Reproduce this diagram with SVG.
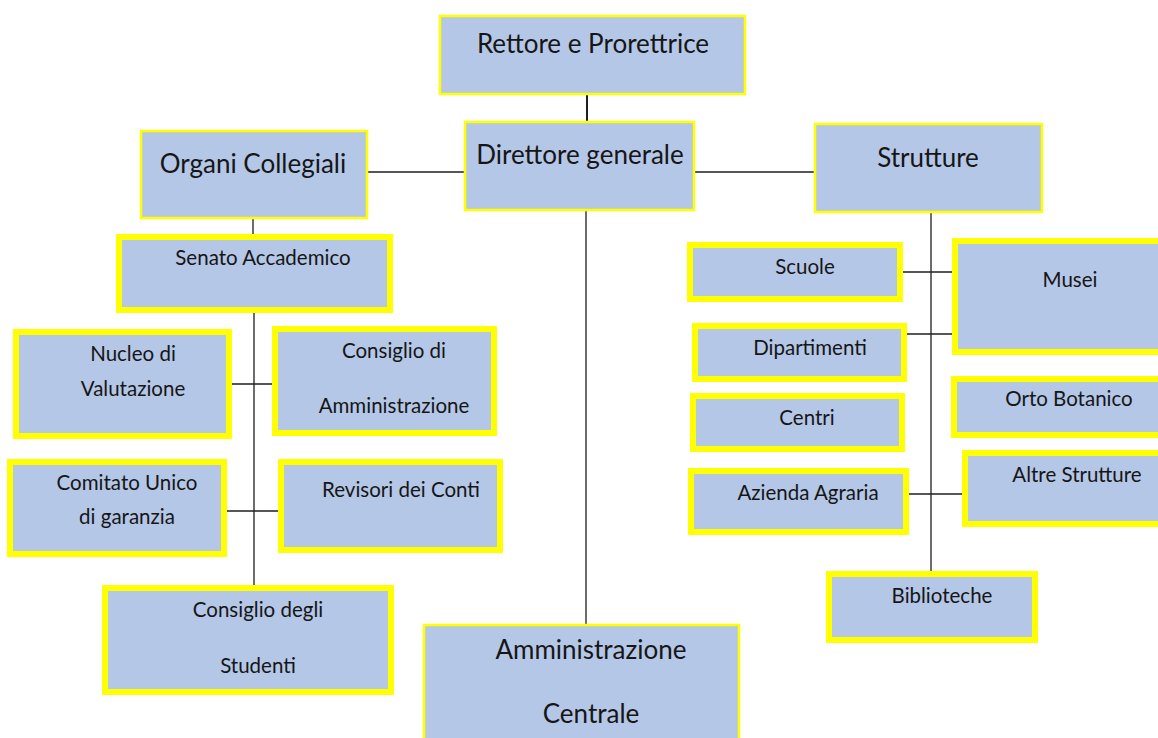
<svg xmlns="http://www.w3.org/2000/svg" width="1158" height="738" viewBox="0 0 1158 738">
<style>
.box{fill:#B4C7E7;stroke:#FFFF00}
.thin{stroke-width:2.5}
.thick{stroke-width:6}
text{font-family:Lato,"Noto Sans",sans-serif;fill:#161616;text-anchor:middle}
.lg{font-size:26px}
.sm{font-size:20.5px}
#connectors line{stroke:#1e1e1e;stroke-width:1.3}
</style>
<rect width="1158" height="738" fill="#fff"/>
<g id="connectors">
<line x1="587" y1="95" x2="587" y2="121" style="stroke-width:2"/>
<line x1="368" y1="172" x2="464" y2="172"/>
<line x1="695" y1="172" x2="814" y2="172"/>
<line x1="586" y1="211" x2="586" y2="624"/>
<line x1="253" y1="219" x2="253" y2="234"/>
<line x1="254" y1="313" x2="254" y2="585"/>
<line x1="232" y1="384" x2="272" y2="384"/>
<line x1="227" y1="511" x2="278" y2="511"/>
<line x1="931" y1="213" x2="931" y2="571"/>
<line x1="903" y1="272" x2="952" y2="272"/>
<line x1="907" y1="334" x2="952" y2="334"/>
<line x1="909" y1="494" x2="962" y2="494"/>
</g>
<g id="rettore"><rect class="box thin" x="440" y="16" width="305" height="78"/><text class="lg" x="593" y="53">Rettore e Prorettrice</text></g>
<g id="direttore"><rect class="box thin" x="465" y="122" width="229" height="88"/><text class="lg" x="580" y="164">Direttore generale</text></g>
<g id="organi"><rect class="box thin" x="141" y="131" width="226" height="87"/><text class="lg" x="253" y="173">Organi Collegiali</text></g>
<g id="strutture"><rect class="box thin" x="815" y="124" width="227" height="88"/><text class="lg" x="928" y="167">Strutture</text></g>
<g id="amministrazione"><rect class="box thin" x="424" y="625" width="315" height="130"/><text class="lg" x="591" y="659">Amministrazione</text><text class="lg" x="591" y="723">Centrale</text></g>
<g id="senato"><rect class="box thick" x="119" y="237" width="271" height="73"/><text class="sm" x="263" y="265">Senato Accademico</text></g>
<g id="nucleo"><rect class="box thick" x="16" y="332" width="213" height="104"/><text class="sm" x="133" y="361">Nucleo di</text><text class="sm" x="133" y="396">Valutazione</text></g>
<g id="cda"><rect class="box thick" x="275" y="329" width="219" height="104"/><text class="sm" x="394" y="358">Consiglio di</text><text class="sm" x="394" y="413">Amministrazione</text></g>
<g id="comitato"><rect class="box thick" x="10" y="462" width="214" height="92"/><text class="sm" x="127" y="490">Comitato Unico</text><text class="sm" x="127" y="524">di garanzia</text></g>
<g id="revisori"><rect class="box thick" x="281" y="462" width="219" height="88"/><text class="sm" x="401" y="497">Revisori dei Conti</text></g>
<g id="studenti"><rect class="box thick" x="105" y="588" width="286" height="104"/><text class="sm" x="258" y="617">Consiglio degli</text><text class="sm" x="258" y="673">Studenti</text></g>
<g id="scuole"><rect class="box thick" x="690" y="245" width="210" height="54"/><text class="sm" x="805" y="274">Scuole</text></g>
<g id="musei"><rect class="box thick" x="955" y="241" width="215" height="111"/><text class="sm" x="1070" y="287">Musei</text></g>
<g id="dipartimenti"><rect class="box thick" x="695" y="326" width="209" height="53"/><text class="sm" x="810" y="355">Dipartimenti</text></g>
<g id="orto"><rect class="box thick" x="954" y="379" width="215" height="56"/><text class="sm" x="1069" y="406">Orto Botanico</text></g>
<g id="centri"><rect class="box thick" x="693" y="396" width="209" height="53"/><text class="sm" x="807" y="425">Centri</text></g>
<g id="azienda"><rect class="box thick" x="691" y="471" width="215" height="61"/><text class="sm" x="808" y="500">Azienda Agraria</text></g>
<g id="altre"><rect class="box thick" x="965" y="453" width="210" height="71"/><text class="sm" x="1077" y="482">Altre Strutture</text></g>
<g id="biblioteche"><rect class="box thick" x="829" y="574" width="206" height="66"/><text class="sm" x="942" y="603">Biblioteche</text></g>
</svg>
